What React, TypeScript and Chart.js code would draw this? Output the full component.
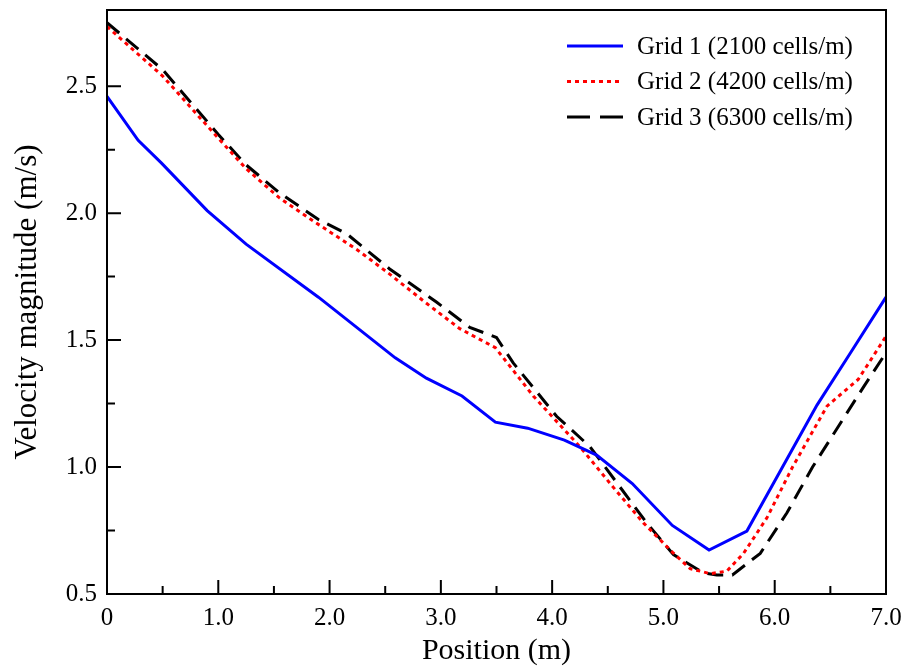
import React, { useEffect, useRef } from "react";
import { Chart, registerables } from "chart.js";

Chart.register(...registerables);

// Position (m) and velocity magnitude (m/s)
const grid1X = [0, 0.28, 0.49, 0.9, 1.25, 1.9, 2.59, 2.87, 3.19, 3.49, 3.78, 4.11, 4.4, 4.72, 5.08, 5.41, 5.75, 6.38, 6.68, 7.0];
const grid1V = [2.46, 2.287, 2.197, 2.01, 1.878, 1.669, 1.43, 1.35, 1.28, 1.177, 1.153, 1.106, 1.047, 0.935, 0.77, 0.673, 0.748, 1.244, 1.449, 1.669];

const grid2X = [0, 0.5, 1.0, 1.25, 1.55, 1.85, 2.25, 2.54, 2.87, 3.17, 3.49, 3.83, 4.25, 4.55, 4.82, 5.08, 5.24, 5.42, 5.57, 5.72, 5.93, 6.16, 6.47, 6.75, 7.0];
const grid2V = [2.735, 2.54, 2.295, 2.175, 2.06, 1.97, 1.855, 1.76, 1.645, 1.545, 1.47, 1.28, 1.08, 0.92, 0.78, 0.665, 0.6, 0.58, 0.59, 0.66, 0.8, 1.0, 1.24, 1.345, 1.515];

const grid3X = [0, 0.5, 1.0, 1.25, 1.55, 1.9, 2.15, 2.54, 2.96, 3.26, 3.5, 3.65, 4.04, 4.34, 4.85, 5.09, 5.36, 5.48, 5.62, 5.87, 6.11, 6.34, 6.79, 6.97, 7.0];
const grid3V = [2.75, 2.565, 2.31, 2.19, 2.08, 1.975, 1.92, 1.78, 1.65, 1.55, 1.51, 1.41, 1.2, 1.08, 0.78, 0.655, 0.583, 0.575, 0.575, 0.66, 0.82, 1.0, 1.31, 1.43, 1.45];

const seriesNames = ["Grid 1 (2100 cells/m)", "Grid 2 (4200 cells/m)", "Grid 3 (6300 cells/m)"];
const seriesColors = ["#0000ff", "#ff0000", "#000000"];
const seriesDashes: number[][] = [[], [4, 4], [16, 9]];

const xMajorTicks = [0, 1, 2, 3, 4, 5, 6, 7];
const xTickLabels = ["0", "1.0", "2.0", "3.0", "4.0", "5.0", "6.0", "7.0"];
const yMajorTicks = [0.5, 1.0, 1.5, 2.0, 2.5];
const yTickLabels = ["0.5", "1.0", "1.5", "2.0", "2.5"];

const FONT = "'Liberation Serif', 'Times New Roman', serif";

const framePlugin = {
  id: "frameTicks",
  afterDraw(chart: any) {
    const { ctx, chartArea } = chart;
    const { left, right, top, bottom } = chartArea;
    ctx.save();
    ctx.strokeStyle = "#000";
    ctx.lineWidth = 2;
    ctx.strokeRect(left, top, right - left, bottom - top);
    const xs = chart.scales.x;
    const ys = chart.scales.y;
    ctx.beginPath();
    xs.ticks.forEach((t: any) => {
      const v = t.value;
      if (Math.abs(v * 2 - Math.round(v * 2)) > 1e-6) return;
      if (v <= 0 || v >= 7) return;
      const major = Math.abs(v - Math.round(v)) < 1e-6;
      const px = xs.getPixelForValue(v);
      ctx.moveTo(px, bottom);
      ctx.lineTo(px, bottom - (major ? 14 : 8));
    });
    ys.ticks.forEach((t: any) => {
      const v = t.value;
      if (Math.abs(v * 4 - Math.round(v * 4)) > 1e-6) return;
      if (v <= 0.5) return;
      const major = Math.abs(v * 2 - Math.round(v * 2)) < 1e-6;
      const py = ys.getPixelForValue(v);
      ctx.moveTo(left, py);
      ctx.lineTo(left + (major ? 14 : 8), py);
    });
    ctx.stroke();

    // legend
    const lx0 = right - 319;
    const lx1 = right - 263;
    const ly0 = top + 36;
    const gap = 35.5;
    ctx.font = `25px ${FONT}`;
    ctx.textBaseline = "middle";
    ctx.textAlign = "left";
    seriesNames.forEach((name, i) => {
      const y = ly0 + i * gap;
      ctx.beginPath();
      ctx.strokeStyle = seriesColors[i];
      ctx.lineWidth = 3;
      ctx.setLineDash(i === 2 ? [23, 10] : seriesDashes[i]);
      ctx.moveTo(lx0, y);
      ctx.lineTo(lx1, y);
      ctx.stroke();
      ctx.setLineDash([]);
      ctx.fillStyle = "#000";
      ctx.fillText(name, lx1 + 14, y + 1);
    });
    ctx.restore();
  },
};

export default function App() {
  const ref = useRef<HTMLCanvasElement | null>(null);
  useEffect(() => {
    if (!ref.current) return;
    const toPts = (xs: number[], vs: number[]) => xs.map((x, i) => ({ x, y: vs[i] }));
    const allX = [grid1X, grid2X, grid3X];
    const allV = [grid1V, grid2V, grid3V];
    const chart = new Chart(ref.current, {
      type: "line",
      data: {
        datasets: seriesNames.map((name, i) => ({
          label: name,
          data: toPts(allX[i], allV[i]),
          borderColor: seriesColors[i],
          backgroundColor: seriesColors[i],
          borderWidth: 3,
          borderDash: seriesDashes[i],
          pointRadius: 0,
          tension: 0,
          fill: false,
        })),
      },
      options: {
        animation: false,
        responsive: false,
        maintainAspectRatio: false,
        layout: { padding: { left: 0, right: 17, top: 10, bottom: 0 } },
        plugins: { legend: { display: false }, tooltip: { enabled: false } },
        scales: {
          x: {
            type: "linear",
            min: 0,
            max: 7,
            afterFit: (s: any) => { s.height = 75; s.paddingLeft = 0; s.paddingRight = 0; },
            border: { display: false },
            grid: { display: false, drawTicks: false },
            ticks: {
              stepSize: 0.5,
              autoSkip: false,
              maxRotation: 0,
              padding: 9,
              color: "#000",
              font: { family: FONT, size: 25 },
              callback: (v: any) => {
                const idx = xMajorTicks.findIndex((m) => Math.abs(m - Number(v)) < 1e-6);
                return idx >= 0 ? xTickLabels[idx] : "";
              },
            },
            title: {
              display: true,
              text: "Position (m)",
              color: "#000",
              font: { family: FONT, size: 30 },
              padding: { top: 0, bottom: 0 },
            },
          },
          y: {
            type: "linear",
            min: 0.5,
            max: 2.8,
            afterFit: (s: any) => { s.width = 107; s.paddingTop = 0; s.paddingBottom = 0; },
            border: { display: false },
            grid: { display: false, drawTicks: false },
            ticks: {
              stepSize: 0.25,
              autoSkip: false,
              padding: 10,
              color: "#000",
              font: { family: FONT, size: 25 },
              callback: (v: any) => {
                const idx = yMajorTicks.findIndex((m) => Math.abs(m - Number(v)) < 1e-6);
                return idx >= 0 ? yTickLabels[idx] : "";
              },
            },
            title: {
              display: true,
              text: "Velocity magnitude (m/s)",
              color: "#000",
              font: { family: FONT, size: 31 },
              padding: { top: 9, bottom: 0 },
            },
          },
        },
      },
      plugins: [framePlugin],
    });
    return () => chart.destroy();
  }, []);
  return (
    <div style={{ position: "fixed", left: 0, top: 0, width: 903, height: 669, background: "#fff" }}>
      <canvas ref={ref} width={903} height={669} />
    </div>
  );
}
